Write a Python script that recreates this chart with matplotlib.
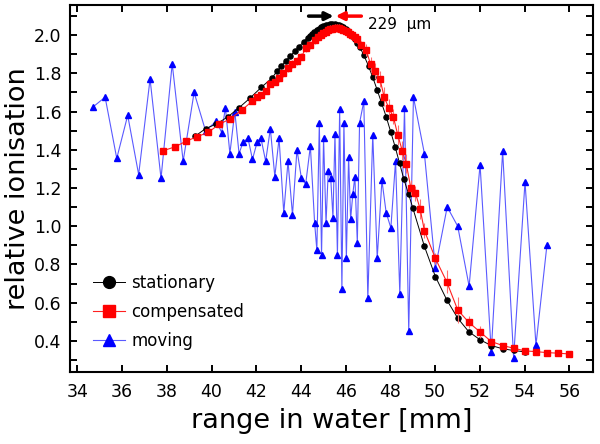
import numpy as np
import matplotlib
matplotlib.use("Agg")
import matplotlib.pyplot as plt
from matplotlib.ticker import MultipleLocator

# stationary beam (black circles)
stat_x = [39.25, 39.73, 40.22, 40.74, 41.23, 41.71, 42.23, 42.72, 42.93, 43.12,
          43.32, 43.53, 43.72, 43.91, 44.12, 44.31, 44.4, 44.5, 44.6, 44.7,
          44.8, 44.9, 45.0, 45.1, 45.2, 45.3, 45.4, 45.5, 45.6, 45.7,
          45.8, 45.9, 46.0, 46.1, 46.2, 46.3, 46.4, 46.5, 46.62, 46.81,
          47.02, 47.21, 47.41, 47.60, 47.81, 48.02, 48.21, 48.41, 48.60, 48.81,
          49.0, 49.52, 50.01, 50.52, 51.01, 51.5, 52.01, 52.51, 53.02, 53.51, 54.0]
stat_y = [1.470, 1.510, 1.535, 1.573, 1.620, 1.669, 1.727, 1.777, 1.812, 1.838,
          1.866, 1.890, 1.916, 1.939, 1.965, 1.986, 1.995, 2.005, 2.015, 2.025,
          2.033, 2.040, 2.046, 2.050, 2.054, 2.056, 2.057, 2.057, 2.055, 2.052,
          2.047, 2.040, 2.030, 2.020, 2.008, 1.995, 1.978, 1.960, 1.939, 1.895,
          1.838, 1.779, 1.712, 1.646, 1.573, 1.491, 1.416, 1.329, 1.247, 1.169,
          1.096, 0.895, 0.737, 0.615, 0.519, 0.449, 0.406, 0.376, 0.359, 0.350, 0.343]

# compensated (red squares)
comp_x = [37.84, 38.36, 38.85, 39.33, 39.85, 40.34, 40.83, 41.34, 41.83, 42.04,
          42.23, 42.42, 42.63, 42.83, 43.02, 43.20, 43.42, 43.62, 43.82, 44.02,
          44.21, 44.42, 44.61, 44.76, 44.9, 45.0, 45.1, 45.2, 45.3, 45.4,
          45.5, 45.6, 45.7, 45.8, 45.9, 46.0, 46.1, 46.2, 46.3, 46.4,
          46.5, 46.7, 46.92, 47.11, 47.33, 47.53, 47.72, 47.93, 48.13, 48.33,
          48.53, 48.71, 48.91, 49.12, 49.33, 49.52, 50.01, 50.52, 51.01, 51.5,
          52.01, 52.51, 53.02, 53.51, 54.02, 54.51, 55.0, 55.49, 56.0]
comp_y = [1.395, 1.415, 1.444, 1.467, 1.491, 1.533, 1.561, 1.606, 1.655, 1.678,
          1.686, 1.707, 1.742, 1.756, 1.774, 1.800, 1.826, 1.847, 1.864, 1.887,
          1.930, 1.948, 1.974, 1.991, 2.000, 2.010, 2.018, 2.024, 2.030, 2.034,
          2.036, 2.037, 2.036, 2.033, 2.028, 2.022, 2.015, 2.007, 1.998, 1.988,
          1.977, 1.950, 1.922, 1.847, 1.812, 1.770, 1.677, 1.617, 1.573, 1.477,
          1.395, 1.326, 1.202, 1.173, 1.090, 0.977, 0.832, 0.709, 0.562, 0.498,
          0.447, 0.397, 0.376, 0.362, 0.348, 0.344, 0.339, 0.336, 0.332]
comp_err = [0.01, 0.01, 0.01, 0.01, 0.01, 0.01, 0.01, 0.01, 0.015, 0.015,
            0.015, 0.015, 0.015, 0.015, 0.02, 0.02, 0.02, 0.02, 0.02, 0.02,
            0.02, 0.02, 0.02, 0.02, 0.02, 0.02, 0.02, 0.02, 0.02, 0.02,
            0.02, 0.02, 0.02, 0.02, 0.02, 0.02, 0.02, 0.02, 0.02, 0.02,
            0.02, 0.02, 0.03, 0.04, 0.04, 0.04, 0.05, 0.05, 0.04, 0.05,
            0.05, 0.05, 0.04, 0.04, 0.05, 0.04, 0.03, 0.06, 0.07, 0.03,
            0.03, 0.02, 0.01, 0.01, 0.01, 0.01, 0.01, 0.01, 0.01]

# moving beam (blue triangles)
mov_x = [34.71, 35.24, 35.76, 36.25, 36.74, 37.25, 37.74, 38.24, 38.73, 39.22,
         39.73, 40.22, 40.45, 40.62, 40.82, 41.04, 41.23, 41.41, 41.63, 41.83,
         42.04, 42.21, 42.42, 42.63, 42.83, 43.02, 43.23, 43.42, 43.62, 43.82,
         44.02, 44.21, 44.42, 44.61, 44.71, 44.82, 44.92, 45.01, 45.12, 45.22,
         45.33, 45.43, 45.52, 45.63, 45.73, 45.83, 45.92, 46.03, 46.13, 46.22,
         46.32, 46.41, 46.52, 46.62, 46.81, 46.99, 47.21, 47.41, 47.62, 47.81,
         48.02, 48.23, 48.42, 48.63, 48.82, 49.03, 49.52, 50.01, 50.54, 51.01,
         51.52, 52.01, 52.51, 53.02, 53.51, 54.02, 54.51, 55.0]
mov_y = [1.625, 1.675, 1.355, 1.580, 1.270, 1.770, 1.250, 1.850, 1.340, 1.700,
         1.500, 1.550, 1.490, 1.620, 1.380, 1.600, 1.380, 1.440, 1.460, 1.350,
         1.440, 1.460, 1.340, 1.510, 1.260, 1.460, 1.070, 1.340, 1.060, 1.400,
         1.250, 1.220, 1.420, 1.017, 0.875, 1.540, 0.848, 1.462, 1.017, 1.289,
         1.252, 1.045, 1.481, 0.848, 1.612, 0.674, 1.540, 0.834, 1.361, 1.037,
         1.170, 1.259, 0.913, 1.540, 1.653, 0.622, 1.479, 0.834, 1.240, 1.071,
         0.991, 1.341, 0.646, 1.618, 0.451, 1.676, 1.380, 0.782, 1.101, 1.000,
         0.686, 1.322, 0.343, 1.392, 0.313, 1.232, 0.378, 0.901]

fig = plt.figure(figsize=(6.0, 4.44), dpi=100)
ax = fig.add_axes([0.1167, 0.1615, 0.8716, 0.8272])

ax.plot(mov_x, mov_y, '-^', color='#5a5aff', lw=0.8, ms=4.0,
        mfc='blue', mec='blue', label='moving', zorder=2)
ax.plot(stat_x, stat_y, '-o', color='black', lw=0.7, ms=3.7,
        label='stationary', zorder=3)
ax.errorbar(comp_x, comp_y, yerr=comp_err, fmt='none', ecolor='#ff7070',
            elinewidth=0.8, capsize=0, zorder=3.5)
ax.plot(comp_x, comp_y, '-s', color='#ff2020', lw=0.8, ms=3.7,
        mfc='red', mec='red', label='compensated', zorder=4)

# peak shift annotation
ax.annotate('', xy=(45.46, 2.099), xytext=(44.34, 2.099),
            arrowprops=dict(arrowstyle='-|>', color='black', lw=2.5,
                            mutation_scale=12, shrinkA=0, shrinkB=0))
ax.annotate('', xy=(45.55, 2.099), xytext=(46.70, 2.099),
            arrowprops=dict(arrowstyle='-|>', color='red', lw=2.5,
                            mutation_scale=12, shrinkA=0, shrinkB=0))
ax.text(47.0, 2.055, '229  µm', fontsize=11, ha='left', va='center')

ax.set_xlim(33.67, 57.06)
ax.set_ylim(0.236, 2.157)
ax.xaxis.set_major_locator(MultipleLocator(2))
ax.yaxis.set_major_locator(MultipleLocator(0.2))
ax.yaxis.set_minor_locator(MultipleLocator(0.1))
ax.yaxis.set_major_formatter(plt.FormatStrFormatter('%.1f'))
ax.tick_params(which='both', direction='in', top=True, right=True,
               length=5, width=1.4, labelsize=12.5)
ax.tick_params(axis='x', pad=8)
ax.tick_params(axis='y', pad=6)
for s in ax.spines.values():
    s.set_linewidth(1.5)

ax.set_xlabel('range in water [mm]', fontsize=19.5, labelpad=5)
ax.set_ylabel('relative ionisation', fontsize=19.5, labelpad=2)

h, l = ax.get_legend_handles_labels()
order = [1, 2, 0]
ax.legend([h[i] for i in order], [l[i] for i in order], loc='lower left',
          bbox_to_anchor=(0.044, 0.06), frameon=False, fontsize=12,
          markerscale=2.3, handlelength=1.9, handletextpad=0.4,
          labelspacing=0.67, borderpad=0, borderaxespad=0)

fig.savefig('out.png', dpi=100)
